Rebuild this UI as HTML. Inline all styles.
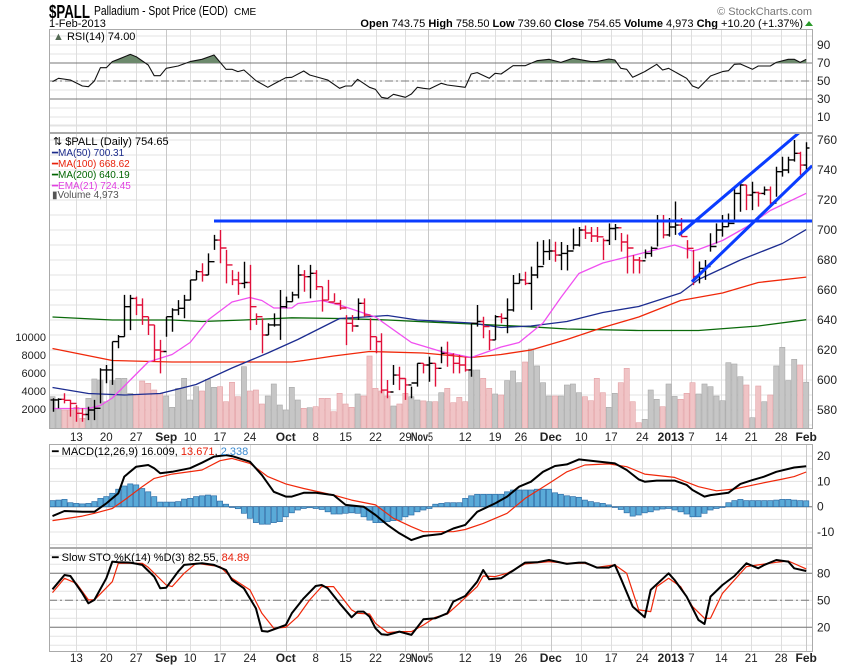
<!DOCTYPE html>
<html><head><meta charset="utf-8">
<style>
html,body{margin:0;padding:0;background:#fff;}
svg{display:block;font-family:"Liberation Sans",sans-serif;}
</style></head>
<body>
<svg id="chart" width="850" height="668" viewBox="0 0 850 668" xmlns="http://www.w3.org/2000/svg">
  <g>
    <text x="49" y="18" font-size="18" font-weight="bold" textLength="41" lengthAdjust="spacingAndGlyphs">$PALL</text>
    <text x="94" y="15" font-size="12.5" textLength="134" lengthAdjust="spacingAndGlyphs">Palladium - Spot Price (EOD)</text>
    <text x="234" y="15" font-size="10">CME</text>
    <text x="49" y="27" font-size="11">1-Feb-2013</text>
    <text x="812" y="15" font-size="11" fill="#777" text-anchor="end">© StockCharts.com</text>
    <text x="803" y="27" font-size="11" text-anchor="end"><tspan font-weight="bold">Open</tspan> 743.75 <tspan font-weight="bold">High</tspan> 758.50 <tspan font-weight="bold">Low</tspan> 739.60 <tspan font-weight="bold">Close</tspan> 754.65 <tspan font-weight="bold">Volume</tspan> 4,973 <tspan font-weight="bold">Chg</tspan> +10.20 (+1.37%)</text>
    <path d="M805,26 L813,26 L809,21 Z" fill="#2a9a2a"/>
  </g>
  <g id="grid"></g>
  <g id="marks"></g>
  <g id="axes"></g>
  <g id="legends">
    <text x="53" y="40" font-size="11"><tspan fill="#556b55">▲</tspan> RSI(14) 74.00</text>
    <text x="53" y="145" font-size="11">⇅ $PALL (Daily) 754.65</text>
    <text x="52" y="156" font-size="10" fill="#1a2a8a">━MA(50) 700.31</text>
    <text x="52" y="167" font-size="10" fill="#e8200a">━MA(100) 668.62</text>
    <text x="52" y="178" font-size="10" fill="#006400">━MA(200) 640.19</text>
    <text x="52" y="189" font-size="10" fill="#e040e0">━EMA(21) 724.45</text>
    <text x="52" y="198" font-size="10" fill="#555">▮Volume 4,973</text>
    <text x="52" y="455" font-size="11">━ MACD(12,26,9) 16.009, <tspan fill="#e8200a">13.671</tspan>, <tspan fill="#3a8ad0">2.338</tspan></text>
    <text x="52" y="561" font-size="11">━ Slow STO %K(14) %D(3) 82.55, <tspan fill="#e8200a">84.89</tspan></text>
  </g>
</svg>
<script>
// ---------- data ----------
const highs = [587.8,587.8,591.1,586.7,583.3,581.1,582.2,586.7,607.8,610,625.6,630,656.7,656.7,655.6,654.4,642.2,636.7,626.7,642.2,647.8,653.3,656.7,666.7,673.3,677.8,684.4,696.7,700,686.7,673.3,672.2,678.9,676.7,644.4,641.1,637.8,644.4,660,655.6,658.9,676.7,673.3,
676.7,673.3,662.2,666.7,657.8,653.3,643.3,643.3,654.4,654.4,641.1,628.9,631.1,600,610,608.9,601.1,595.6,611.1,611.1,615.6,611.1,622.2,625.6,617.8,616.7,615.6,637.8,650,642.2,633.3,643.3,644.4,654.4,670,671.1,672.2,675.6,692.2,693.3,693.8,692.2,
692,690,701,702,703,702,702,694.4,704.4,704,698,697,683.3,682,687,689,710,710,708,719,708,693.3,686.7,679,680,697.8,704.4,710,711,727.8,731,730,732.2,725.6,729,729,742.2,748.9,748.9,760,752.2,758.5];
const lows = [578.9,581.1,584.4,575.6,572.2,572.2,573.3,573.3,584.4,597.8,596.7,621.1,628.9,633.3,643.3,636.7,630,612.2,604.4,628.9,632.2,643.3,641.1,653.3,666.7,665.6,670,686.7,677.8,664.4,663.3,656.7,661.1,633.3,636.7,617.8,630,635.6,626.7,647.8,652.2,654.4,658.9,
654.4,660,645.6,653.3,652.2,646.7,623.3,632.2,640,642.2,620,617.8,591.1,587.8,596.7,593.3,586.7,587.8,595.6,604.4,598.9,595.6,611.1,608.9,604.4,604.4,605.6,602.2,635.6,627.8,620,626.7,637.8,631.1,645.6,664.4,663.3,646.7,667.8,676.7,680,678.9,
673.3,673,687,689,694,692,692,680,690,693.3,685.6,671,671,671,681,682.2,689,694.4,695.6,696.7,695.6,681,663.3,664.4,666.7,685.6,691,695.6,702.2,706.7,712.2,713.3,713.3,715.6,723.3,716.7,722.2,735.6,737.8,745.6,736.7,739.6];
const closes = [586.7,587.1,586.5,584.4,577.8,577,580,581.1,606.7,606.7,625.6,628.9,648.9,654.4,650,642.2,636.7,620,619,642.2,646.7,647.8,653.3,666.7,672.2,670,678.9,693.3,688,676.7,666.7,664.4,665,648.9,642.2,630,636.7,636.7,648.9,652.2,656.7,670,668.9,
671.1,662.2,653.3,652,651,648,637.8,636,651.1,643.3,628.9,625.6,593.3,592,603.3,601,596.7,598,611.1,610,611.1,607.8,617.8,616.7,611.1,610,606.7,637.8,639,635.6,626.7,642.2,641.1,646.7,664.4,666.7,664.4,670,675.6,685.6,686,683.3,
684.4,686,690,700,698,696,695.5,693,701,701.5,692,688,680,679.5,684.4,687.8,705.6,696.7,702,703.3,695.6,687.8,669,674.4,675.6,689,700,702.2,704.4,724.4,730,723.3,725,724.4,726.7,718,738.9,740,746.7,751.1,743.3,754.65];
const volumes = [3370,2073,1888,1888,2185,962,3185,5333,5222,2814,5148,5407,5407,3740,3555,5111,4852,4111,3740,3444,2185,4296,5407,3000,4481,3999,5296,4407,4481,2814,4963,3370,6704,3999,4111,2555,3444,4778,2444,1888,4407,3000,2073,2148,2259,3185,3185,1703,3740,2555,2185,3666,3444,7889,4296,3999,3444,2333,2555,3740,3370,3000,2900,
2814,2814,3815,4296,2703,3296,2814,6333,6333,5407,4296,3666,3555,5148,6222,4926,7222,8667,6778,4926,3444,3444,3444,4666,4778,3815,3370,2925,5407,3815,2185,3740,4926,6519,2814,481,851,4111,3074,2259,4778,3400,3074,3740,4926,3666,4778,4481,3444,2925,7148,7000,5592,4666,1037,4556,2814,3555,6778,8852,5148,7519,6889,4973];
const ma50Idx = [0,6,12,18,24,30,36,41,48,56,61,70,75,80,86,92,98,105,108,115,122,126];
const ma50Val = [595,591,590,591,597,608,618,627,641,643,640,638,635,636,639,645,649,658,667,680,691,700.3];
const ma100Idx = [0,5,10,20,30,40,42,47,53,62,70,75,80,86,92,98,105,112,118,126];
const ma100Val = [621,617,613,612,612,612,613,616,619,618,615,617,620,627,635,642,653,658,665,668.6];
const ma200Idx = [0,10,20,25,32,40,48,56,64,72,80,86,98,108,118,126];
const ma200Val = [642,640,640,639,640,641.5,641,640,638.5,637,635.5,634,633,633,636,640.2];
const emaIdx = [0,6,8,10,13,16,20,23,26,30,33,35,37,40,41,45,48,54,60,65,70,75,78,82,85,88,92,95,100,104,107,108,112,116,120,126];
const emaVal = [581,581,583,588,600,612,617,625,640,652,655,653,648,648,651,653,650,642,625,619,615,622,625,638,655,671,678,681,686,690,686,687,693,702,713,724.5];
const rsiIdx = [0,1,3,5,6,7,8,9,10,11,13,14,16,17,18,19,21,23,25,27,29,30,31,32,34,36,37,39,40,42,43,46,48,49,50,51,53,54,55,56,57,59,60,61,62,63,65,66,69,70,71,73,74,75,77,79,81,83,85,87,90,91,93,94,95,96,97,99,101,102,103,105,106,107,108,110,112,113,114,115,117,118,120,121,123,124,125,126];
const rsiVal = [49.3,53,51.1,44.4,43.7,50,64.8,64.8,71.5,74.1,79.6,77,67.8,55.9,55.9,64.1,66.7,71.5,74.1,78.9,63,63,60.4,62.2,50.4,43,46.7,53.7,54.1,61.1,56.7,51.1,41.9,44.4,44.4,51.9,43,40.7,31.9,30.7,35.2,31.9,35.6,43,41.9,41.1,47.4,45.6,43,57.8,59.3,53,58.5,57.8,67,67,72.6,74.1,70.7,75.2,71.5,71.5,74.4,73.3,64.1,63,54.1,60.4,68.5,62.2,64.1,56.7,53,44.4,41.9,55.6,60.4,61.5,68.5,68.9,63,66.7,66.7,70.7,74.1,74.1,70.7,74];
const macdIdx = [0,2,5,7,9,11,12,14,16,17,18,20,23,25,27,29,30,33,35,37,39,40,42,44,47,49,52,54,56,58,60,62,65,67,69,71,74,76,78,80,82,84,86,88,90,94,96,98,99,101,104,106,107,109,110,113,115,117,119,121,124,126];
const macdVal = [-3.7,-1.7,-2,-2,1.3,5.3,11.9,15.8,16.5,15.2,13.2,13.8,15.2,17.4,19.8,20.4,20,17.8,12.5,5.9,4,4,5.5,5.5,4.6,0.7,0,-3.3,-7.2,-10.5,-13.2,-11.6,-10.8,-8.6,-7.2,-2,1.3,4,7.9,9.9,13.8,16.1,16.7,18.7,18.2,17.1,14.5,10.8,9.9,10.3,10.3,8.6,6.6,4,4.6,5.5,9,10.5,11.9,13.8,15.5,16.0];
const signalIdx = [0,5,7,10,12,15,17,20,25,28,30,33,36,39,42,47,50,54,57,60,62,67,69,72,76,79,83,86,89,93,96,99,104,108,111,114,118,122,124,126];
const signalVal = [-5.5,-3.7,-2.6,-0.7,2.6,7.9,11.2,12.9,14.5,18.2,19.1,17.1,11.9,9,7.2,4.6,2.6,0.7,-4.6,-7.9,-9.9,-9.9,-9,-6.6,-2.6,3.3,9.2,13.8,16.5,16.9,15.8,12.9,11.6,7.9,6.3,7,9,10.9,11.9,13.7];
const histVal = [2.4,2.6,2.9,1.6,1.3,1.1,1.3,2.0,3.3,4.0,5.3,6.9,8.2,9.0,8.6,7.2,5.9,4.0,1.8,1.8,1.8,2.0,3.0,3.3,4.0,4.3,4.6,4.3,2.2,1.0,0,-0.8,-2.6,-4.6,-6.3,-6.9,-6.9,-6.3,-5.9,-4.0,-2.4,-1.3,-0.7,-0.4,-0.7,-1.1,-2.0,-2.9,-2.9,-2.6,-2.4,-2.6,-4.0,-5.3,-6.3,-6.3,-5.9,-5.5,-5.3,-4.0,-3.3,-2.0,
-1.3,-0.7,1.0,1.3,1.6,1.6,1.6,3.3,4.3,4.9,4.9,4.9,4.9,4.9,5.9,6.6,6.6,6.6,6.6,6.9,6.9,6.9,5.5,4.9,4.3,4.0,3.7,2.6,2.0,1.6,1.3,0.7,-0.3,-1.1,-2.4,-3.7,-3.3,-2.4,-2.0,-1.3,-0.9,-0.7,-1.3,-2.0,-2.9,-4.0,-4.0,-2.6,-1.3,-0.7,0,1.6,2.4,2.9,2.4,2.4,2.4,2.4,2.4,2.6,2.9,2.9,2.6,2.4,2.34];
const kIdx = [0,2,3,5,6,7,9,10,11,13,15,17,18,19,21,22,25,27,29,30,32,34,35,36,39,40,42,44,45,46,48,50,51,52,53,54,55,56,58,60,62,64,66,67,69,71,72,73,75,77,79,81,83,86,88,89,91,93,94,95,97,99,100,103,104,106,108,109,110,112,114,116,118,119,121,123,124,126];
const kVal = [62.2,78.1,77,57.8,46.7,50.4,74.4,93,92.2,91.9,89.3,76.3,63.3,64,81.9,89.3,91.1,89.3,83.7,72.6,63.3,41.1,15.9,15.2,22.6,35.6,52.2,65.9,67,63.3,46.7,31.1,37.4,37.4,31.9,18.9,12.2,11.5,15.2,11.5,28.9,30,35.6,48.5,54.8,70.7,83.7,73.3,74.4,83,91.9,92.2,94.8,90.4,91.9,91.9,86.3,86.3,89.3,74.4,43,31.1,61.5,80,72.6,54.1,28.1,23.7,54.1,67,77,91.1,85.6,89.3,94.8,93,85.6,82.55];
const dIdx = [0,2,4,6,7,10,11,15,16,19,20,22,24,28,30,33,35,37,39,41,43,45,47,50,51,53,54,56,58,60,62,64,66,68,71,72,74,76,79,83,86,89,91,94,96,98,100,101,103,105,107,109,110,112,114,116,118,121,123,126];
const dVal = [58.5,74.4,68.9,50.4,50.4,70.7,91.1,91.1,86.7,67,65.2,80,91.1,87.4,74.4,61.5,35.6,18.9,20,31.9,50.4,65.2,65.2,39.3,35.6,34.8,24.4,14.1,15.2,15.2,22.6,31.1,34.8,46.7,65.2,77,76.3,80,90.4,93,91.1,91.1,86.7,89.3,80,39.3,37.4,65.2,74.4,65.2,43,30,30,57.8,72.6,87.4,89.3,92.2,93.7,84.89];
const dateLabels = ["13","20","27","Sep","10","17","24","Oct","8","15","22","29","Nov","12","19","26","Dec","10","17","24","2013","7","14","21","28","Feb"];
const dateIdx = [4,9,14,19,23,28,33,39,44,49,54,59,62.7,69,74,78.3,83.3,88.4,93.4,98.6,103.4,106.8,111.8,116.8,121.8,126];
const priceTicks = [760,740,720,700,680,660,640,620,600,580];
const volTicks = [10000,8000,6000,4000,2000];
const rsiTicks = [90,70,50,30,10];
const macdTicks = [20,10,0,-10];
const stoTicks = [80,50,20];
const resistanceLine = {price:706, fromIdx:27};
const channelUpper = {i1:104.7, p1:696.7, i2:125, p2:765.5};
const channelLower = {i1:106.9, p1:665.5, i2:127, p2:742.9};

// ---------- scales ----------
const N = closes.length;
const L = 49, R = 813;
const xi = i => 52.5 + i * (753.7 / (N - 1));
const yP = p => 140 + (760 - p) * 1.5;
const yV = v => 427 - v * 0.009;
const yR = v => 81 - (v - 50) * 0.9;
const yM = v => 506.7 - v * 2.53;
const yS = v => 600.3 - (v - 50) * 0.9;
const panels = [{n:'rsi',t:29,b:133},{n:'price',t:133,b:429},{n:'macd',t:444,b:548},{n:'sto',t:548,b:652}];

const NS = 'http://www.w3.org/2000/svg';
function mk(tag, attrs, parent){const e=document.createElementNS(NS,tag);for(const k in attrs)e.setAttribute(k,attrs[k]);parent.appendChild(e);return e;}
const grid=document.getElementById('grid'), marks=document.getElementById('marks'), axes=document.getElementById('axes');
const defs = mk('defs',{},document.getElementById('chart'));
panels.forEach(p=>{const c=mk('clipPath',{id:'clip-'+p.n},defs);mk('rect',{x:L,y:p.t,width:R-L,height:p.b-p.t},c);});

function hgrid(fn, from, to, step){for(let v=from;v<=to;v+=step){const y=fn(v);const l=mk('line',{x1:L,x2:R,y1:y,y2:y,stroke:'#e3e3e3','stroke-width':1},grid);
  
  }}
hgrid(yR,0,100,10); hgrid(yP,570,770,10); hgrid(yM,-15,20,5); hgrid(yS,0,100,10);
dateIdx.forEach((d,k)=>{const x=Math.round(xi(d))+0.5;const month=/[A-Za-z]|2013/.test(dateLabels[k]);
  panels.forEach(p=>{const l=mk('line',{x1:x,x2:x,y1:p.t,y2:p.b,stroke:month?'#c8c8c8':'#dedede','stroke-width':1},grid);
    
    });});

function refLine(y,dash,name){const l=mk('line',{x1:L,x2:R,y1:y,y2:y,stroke:'#777','stroke-width':1},grid);if(dash)l.setAttribute('stroke-dasharray','8,3,2,3');
  
  
  return l;}
refLine(yR(70),false,'rsi-70-line');refLine(yR(50),true,'rsi-50-line');refLine(yR(30),false,'rsi-30-line');
refLine(yS(80),false,'sto-80-line');refLine(yS(50),true,'sto-50-line');refLine(yS(20),false,'sto-20-line');
refLine(yM(0),false,'macd-zero-line');

panels.forEach(p=>{const r=mk('rect',{x:L+0.5,y:p.t+0.5,width:R-L-1,height:p.b-p.t-1,fill:'none',stroke:'#aaa'},axes);
  
  });

function linePath(idx, vals, fn){return idx.map((d,k)=>(k?'L':'M')+xi(d).toFixed(1)+','+fn(vals[k]).toFixed(1)).join('');}
function addLine(idx, vals, fn, color, w, clip, name){const e=mk('path',{d:linePath(idx,vals,fn),fill:'none',stroke:color,'stroke-width':w,'clip-path':'url(#clip-'+clip+')','stroke-linejoin':'round'},marks);
  
  
  return e;}

// RSI shading
const rsiArea = linePath(rsiIdx,rsiVal,yR);
const cpA=mk('clipPath',{id:'clip-rsi70'},defs);mk('rect',{x:L,y:29,width:R-L,height:yR(70)-29},cpA);
const cpB=mk('clipPath',{id:'clip-rsi30'},defs);mk('rect',{x:L,y:yR(30),width:R-L,height:133-yR(30)},cpB);
const last=rsiIdx.length-1;
const fa=mk('path',{d:rsiArea+'L'+xi(rsiIdx[last])+','+yR(70)+'L'+xi(rsiIdx[0])+','+yR(70)+'Z',fill:'#6d8a6d','clip-path':'url(#clip-rsi70)'},marks);


const fb=mk('path',{d:rsiArea+'L'+xi(rsiIdx[last])+','+yR(30)+'L'+xi(rsiIdx[0])+','+yR(30)+'Z',fill:'#6d8a6d','clip-path':'url(#clip-rsi30)'},marks);


addLine(rsiIdx,rsiVal,yR,'#111',1.1,'rsi','rsi-line');

// volume
for(let i=0;i<N;i++){const up=i===0||closes[i]>=closes[i-1];const x=xi(i);const y=yV(volumes[i]);
  const b=mk('rect',{x:(x-2.6).toFixed(1),y:y.toFixed(1),width:5.2,height:(429-y).toFixed(1),fill:up?'#c6c6c6':'#f0c4c6',stroke:up?'#a8a8a8':'#e3a0a4','stroke-width':0.6,'clip-path':'url(#clip-price)'},marks);
  
  }

addLine(ma200Idx,ma200Val,yP,'#0a6a0a',1.3,'price','ma200-line');
addLine(ma100Idx,ma100Val,yP,'#f0280a',1.3,'price','ma100-line');
addLine(ma50Idx,ma50Val,yP,'#1c2c90',1.3,'price','ma50-line');
addLine(emaIdx,emaVal,yP,'#f050f0',1.3,'price','ema21-line');

for(let i=0;i<N;i++){const up=i===0||closes[i]>=closes[i-1];const col=up?'#000':'#e0103a';const x=Math.round(xi(i))+0.5;const o=i?closes[i-1]:closes[i];
  const g=mk('path',{d:`M${x},${yP(highs[i]).toFixed(1)}V${yP(lows[i]).toFixed(1)}M${x-3},${yP(o).toFixed(1)}H${x}M${x},${yP(closes[i]).toFixed(1)}H${x+3}`,stroke:col,'stroke-width':1.4,fill:'none'},marks);
  
  }

const res=mk('line',{x1:xi(resistanceLine.fromIdx),x2:R,y1:yP(resistanceLine.price),y2:yP(resistanceLine.price),stroke:'#0a3cff','stroke-width':3,'clip-path':'url(#clip-price)'},marks);


[channelUpper,channelLower].forEach((c,k)=>{const l=mk('line',{x1:xi(c.i1),y1:yP(c.p1),x2:xi(c.i2),y2:yP(c.p2),stroke:'#0a3cff','stroke-width':3,'clip-path':'url(#clip-price)'},marks);
  
  });

for(let i=0;i<Math.min(N,histVal.length);i++){const x=xi(i);const y0=yM(0),y1=yM(histVal[i]);
  const b=mk('rect',{x:(x-2.6).toFixed(1),y:Math.min(y0,y1).toFixed(1),width:5.2,height:Math.max(0.8,Math.abs(y1-y0)).toFixed(1),fill:'#5aaad8',stroke:'#2e6ea8','stroke-width':0.7,'clip-path':'url(#clip-macd)'},marks);
  
  }
addLine(signalIdx,signalVal,yM,'#f0280a',1.2,'macd','macd-signal-line');
addLine(macdIdx,macdVal,yM,'#000',2,'macd','macd-line');

addLine(dIdx,dVal,yS,'#f0280a',1.2,'sto','sto-d-line');
addLine(kIdx,kVal,yS,'#000',2,'sto','sto-k-line');

function rlabel(fn,vals,name){vals.forEach(v=>{const t=mk('text',{x:817,y:(fn(v)+4).toFixed(1),'font-size':12,fill:'#222'},axes);t.textContent=String(v);
  
  });}
rlabel(yR,rsiTicks,'rsi-axis-label');
rlabel(yP,priceTicks,'price-axis-label');
rlabel(yM,macdTicks,'macd-axis-label');
rlabel(yS,stoTicks,'sto-axis-label');
volTicks.forEach(v=>{const t=mk('text',{x:46,y:(yV(v)+4).toFixed(1),'font-size':11,'text-anchor':'end',fill:'#222'},axes);t.textContent=String(v);
  
  });
[441,662].forEach((yy,row)=>{dateLabels.forEach((s,k)=>{const bold=/[A-Za-z]|2013/.test(s);const x=xi(dateIdx[k]);
  let t;
  if(s==='Nov'){
    t=mk('text',{x:411,y:yy,'font-size':11.5,'text-anchor':'start',fill:'#222',textLength:22,lengthAdjust:'spacingAndGlyphs'},axes);
    const a=mk('tspan',{'font-weight':'bold'},t);a.textContent='Nov';
    const b=mk('tspan',{},t);b.textContent='5';
  } else {
    t=mk('text',{x:x.toFixed(1),y:yy,'font-size':bold?12:11.5,'font-weight':bold?'bold':'normal','text-anchor':'middle',fill:'#222'},axes);
    t.textContent=s;
  }
  
  });});
</script>
</body></html>
